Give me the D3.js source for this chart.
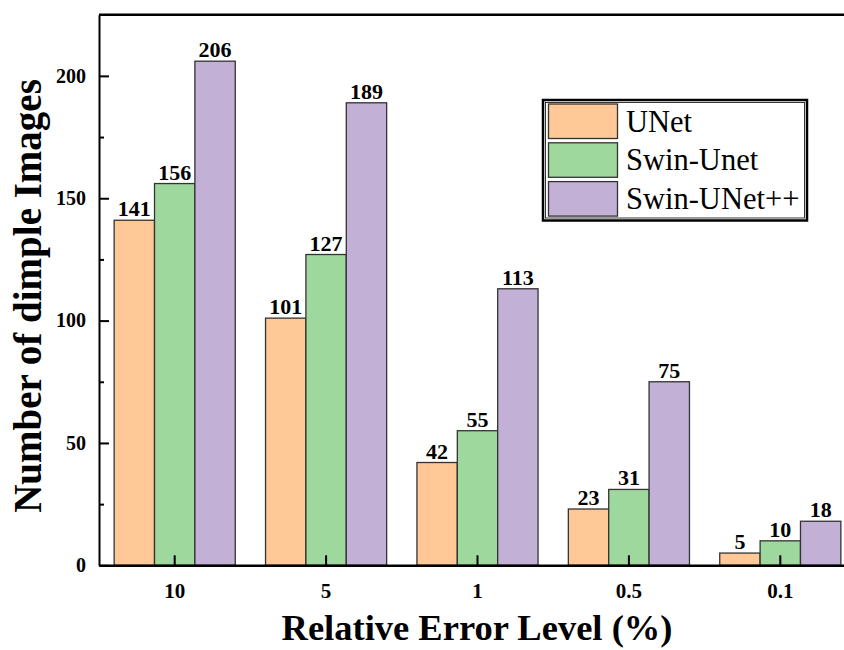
<!DOCTYPE html>
<html><head><meta charset="utf-8">
<script src="https://cdn.jsdelivr.net/npm/d3@7"></script>
<style>body{margin:0;background:#fff}svg{display:block}</style>
</head><body>
<svg id="chart" width="844" height="650"></svg>
<script>
const categories = ["10", "5", "1", "0.5", "0.1"];
const seriesNames = ["UNet", "Swin-Unet", "Swin-UNet++"];
const unetValues = [141, 101, 42, 23, 5];
const swinUnetValues = [156, 127, 55, 31, 10];
const swinUnetPPValues = [206, 189, 113, 75, 18];
const yTickValues = [0, 50, 100, 150, 200];
const yMinorTickValues = [25, 75, 125, 175];
const colors = ["#FFC896", "#9FD89C", "#C2B0D6"];
const allSeries = [unetValues, swinUnetValues, swinUnetPPValues];

(function () {
const svg = d3.select("#chart");
const pLeft = 99, pRight = 856, pTop = 14.7, pBottom = 565.3;
const font = "'Liberation Serif','Times New Roman',serif";

const x = d3.scaleBand().domain(categories).range([pLeft, pRight]).paddingInner(0.2).paddingOuter(0.1);
const xs = d3.scaleBand().domain(seriesNames).range([0, x.bandwidth()]);
const y = d3.scaleLinear().domain([0, 225]).range([pBottom, pTop]);

const rows = (i) => seriesNames.map((s, k) => ({s, k, v: allSeries[k][i]}));

// bars
const groups = svg.append("g").selectAll("g").data(categories).join("g")
  .attr("transform", d => `translate(${x(d)},0)`);
groups.selectAll("rect").data((c, i) => rows(i))
  .join("rect")
  .attr("x", d => xs(d.s)).attr("width", xs.bandwidth())
  .attr("y", d => y(d.v)).attr("height", d => y(0) - y(d.v))
  .attr("fill", d => colors[d.k]).attr("stroke", "#333").attr("stroke-width", 1.3);
groups.selectAll("text").data((c, i) => rows(i))
  .join("text")
  .attr("x", d => xs(d.s) + xs.bandwidth() / 2).attr("y", d => y(d.v) - 4)
  .attr("text-anchor", "middle").attr("font-family", font).attr("font-weight", "bold")
  .attr("font-size", 22).attr("fill", "#000").text(d => d.v);

// axes
const yAxis = svg.append("g").attr("transform", `translate(${pLeft},0)`)
  .call(d3.axisLeft(y).tickValues(yTickValues).tickSize(-10).tickPadding(13).tickSizeOuter(0));
yAxis.select(".domain").attr("stroke-width", 2);
yAxis.selectAll(".tick line").attr("stroke-width", 2);
yAxis.selectAll("text").attr("font-family", font).attr("font-weight", "bold").attr("font-size", 20);
const yMinor = svg.append("g").attr("transform", `translate(${pLeft},0)`)
  .call(d3.axisLeft(y).tickValues(yMinorTickValues).tickSize(-5).tickFormat(""));
yMinor.select(".domain").remove();
yMinor.selectAll(".tick line").attr("stroke-width", 2);

const xAxis = svg.append("g").attr("transform", `translate(0,${pBottom})`)
  .call(d3.axisBottom(x).tickSize(-10).tickPadding(18).tickSizeOuter(0));
xAxis.select(".domain").attr("stroke-width", 2.5);
xAxis.selectAll(".tick line").attr("stroke-width", 2);
xAxis.selectAll("text").attr("font-family", font).attr("font-weight", "bold").attr("font-size", 21);

// top border
svg.append("line").attr("x1", pLeft).attr("x2", 844).attr("y1", pTop).attr("y2", pTop)
  .attr("stroke", "#000").attr("stroke-width", 2.5);

// titles
svg.append("text").attr("x", 477).attr("y", 640).attr("text-anchor", "middle")
  .attr("font-family", font).attr("font-weight", "bold").attr("font-size", 36.5)
  .text("Relative Error Level (%)");
svg.append("text").attr("transform", "translate(41,296) rotate(-90)").attr("text-anchor", "middle")
  .attr("font-family", font).attr("font-weight", "bold").attr("font-size", 39)
  .text("Number of dimple Images");

// legend
const lg = svg.append("g");
lg.append("rect").attr("x", 543).attr("y", 100).attr("width", 264).attr("height", 120.5)
  .attr("fill", "#fff").attr("stroke", "#000").attr("stroke-width", 2.5);
lg.append("rect").attr("x", 545.5).attr("y", 102.5).attr("width", 259).attr("height", 115.5)
  .attr("fill", "none").attr("stroke", "#000").attr("stroke-width", 0.8);
seriesNames.forEach((s, k) => {
  lg.append("rect").attr("x", 548.5).attr("y", 104 + k * 38.8).attr("width", 69).attr("height", 34.5)
    .attr("fill", colors[k]).attr("stroke", "#333").attr("stroke-width", 1.3);
  lg.append("text").attr("x", 626).attr("y", 131.5 + k * 38.8)
    .attr("font-family", font).attr("font-size", 30.5).attr("fill", "#000").text(s);
});
})();
</script>
</body></html>
